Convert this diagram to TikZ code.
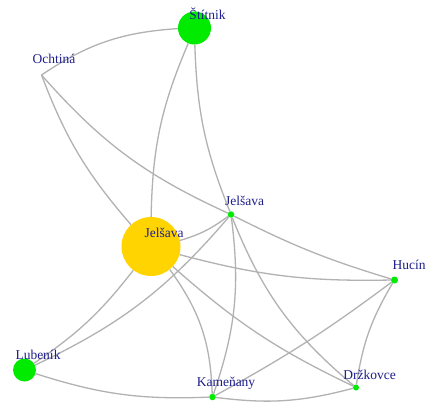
\documentclass[tikz,border=0pt]{standalone}
\usepackage{fontspec}
\setmainfont{Liberation Serif}
\pgfdeclarelayer{edges}
\pgfsetlayers{edges,main}
\definecolor{vgreen}{RGB}{0,235,0}
\definecolor{vgold}{RGB}{255,212,0}
\definecolor{lblue}{RGB}{30,30,140}
\definecolor{egray}{RGB}{178,178,178}
\tikzset{
  vtx/.style={circle, inner sep=0pt, draw=none, fill=vgreen, minimum size=#1},
  bigvtx/.style={circle, inner sep=0pt, draw=none, fill=vgold, minimum size=#1},
  lbl/.style={text=lblue, anchor=base, inner sep=0pt, font=\fontsize{13.5}{15}\selectfont},
  link/.style={draw=egray, line width=1.3pt}
}
\begin{document}
\begin{tikzpicture}[x=1pt, y=-1pt]
  \useasboundingbox (0,0) rectangle (430,406);

  % vertices
  \node[vtx=33pt]    (Stitnik)  at (194.5,28)  {};
  \coordinate        (Ochtina)  at (41.5,75);
  \node[bigvtx=59pt] (JelBig)   at (151,246.5) {};
  \node[vtx=6.5pt]   (JelSmall) at (231,214.5) {};
  \node[vtx=7pt]     (Hucin)    at (394.5,280) {};
  \node[vtx=6pt]     (Drzkovce) at (356,387.5) {};
  \node[vtx=6.5pt]   (Kamenany) at (212.5,397) {};
  \node[vtx=23pt]    (Lubenik)  at (24.5,370)  {};

  % white page and edges, kept below the vertices
  \begin{pgfonlayer}{edges}
    \fill[white] (0,0) rectangle (430,406);
    \draw[link] (Ochtina)  to[bend left=15]  (Stitnik);
    \draw[link] (Ochtina)  to[bend right=10] (JelBig);
    \draw[link] (Ochtina)  to[bend right=12] (JelSmall);
    \draw[link] (Stitnik)  to[bend right=11] (JelBig);
    \draw[link] (Stitnik)  to[bend right=10] (JelSmall);
    \draw[link] (JelBig)   to[bend right=10] (JelSmall);
    \draw[link] (JelBig)   to[bend right=8]  (Hucin);
    \draw[link] (JelBig)   to[bend left=9]   (Lubenik);
    \draw[link] (JelBig)   to[bend left=17]  (Kamenany);
    \draw[link] (JelBig)   to[bend right=8]  (Drzkovce);
    \draw[link] (JelSmall) to[bend left=12]  (Lubenik);
    \draw[link] (JelSmall) to[bend right=5]  (Hucin);
    \draw[link] (JelSmall) to[bend left=13]  (Kamenany);
    \draw[link] (JelSmall) to[bend right=14] (Drzkovce);
    \draw[link] (Hucin)    to[bend left=4]   (Kamenany);
    \draw[link] (Hucin)    to[bend right=11] (Drzkovce);
    \draw[link] (Kamenany) to[bend right=11] (Drzkovce);
    \draw[link] (Lubenik)  to[bend right=10] (Kamenany);
  \end{pgfonlayer}

  % vertex labels
  \node[lbl] (tStitnik)  at (207.5,19.5) {Štítnik};
  \node[lbl] (tOchtina)  at (54,63.3)    {Ochtiná};
  \node[lbl] (tJelBig)   at (164,237.3)  {Jelšava};
  \node[lbl] (tJelSmall) at (244.5,205)  {Jelšava};
  \node[lbl] (tHucin)    at (409,269.7)  {Hucín};
  \node[lbl] (tDrzkovce) at (369.5,379)  {Držkovce};
  \node[lbl] (tKamenany) at (226,386.5)  {Kameňany};
  \node[lbl] (tLubenik)  at (38,359)     {Lubeník};
\end{tikzpicture}
\end{document}
